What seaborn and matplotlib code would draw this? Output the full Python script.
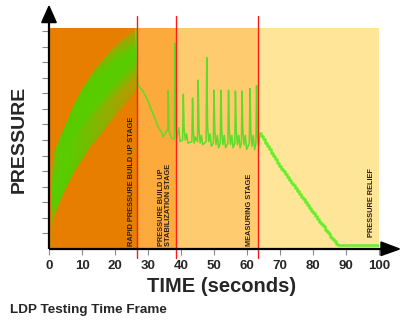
import matplotlib
matplotlib.use("Agg")
import matplotlib.pyplot as plt
import seaborn as sns
from matplotlib.patches import Polygon

sns.set_style("white")
plt.rcParams['font.family'] = ['Liberation Sans', 'DejaVu Sans']

# ---- data ----
stage_bounds = [0, 26.8, 38.5, 63.3, 100]
stage_colors = ["#E87E00", "#FDAA3C", "#FFCB6E", "#FFE597"]
stage_labels = ["RAPID PRESSURE BUILD UP STAGE",
                "PRESSURE BUILD UP\nSTABILIZATION STAGE",
                "MEASURING STAGE",
                "PRESSURE RELIEF"]
label_x = [25.0, 35.3, 60.9, 97.6]
label_y = [0.2, 0.2, 0.2, 0.8]
red_lines = [26.8, 38.5, 63.3]

# rapid build-up pump strokes
stroke_t = [0.8, 1.3, 1.8, 2.3, 2.9, 3.5, 4.1, 4.7, 5.3, 5.9, 6.5, 7.1, 7.7,
            8.3, 8.9, 9.5, 10.1, 10.7, 11.3, 11.9, 12.5, 13.1, 13.7, 14.3,
            14.9, 15.5, 16.1, 16.7, 17.3, 17.9, 18.5, 19.1, 19.7, 20.3, 20.9,
            21.5, 22.1, 22.7, 23.3, 23.9, 24.5, 25.1, 25.7, 26.3]
stroke_high = [5.5, 5.9, 6.3, 6.6, 6.9, 7.2, 7.5, 7.8, 8.1, 8.4, 8.75, 9.0,
               9.3, 9.55, 9.8, 10.05, 10.3, 10.5, 10.7, 10.9, 11.1, 11.3, 11.5,
               11.65, 11.8, 11.95, 12.1, 12.25, 12.4, 12.55, 12.7, 12.85,
               12.95, 13.1, 13.2, 13.35, 13.45, 13.55, 13.65, 13.75, 13.85,
               13.95, 14.05, 14.15]
stroke_low = [0.1, 1.5, 2.1, 2.5, 2.85, 3.15, 3.45, 3.75, 4.0, 4.25, 4.5, 4.75,
              5.0, 5.2, 5.4, 5.6, 5.8, 6.0, 6.2, 6.4, 6.6, 6.75, 6.9, 7.05,
              7.2, 7.35, 7.55, 7.7, 7.85, 8.05, 8.2, 8.35, 8.5, 8.7, 8.85,
              9.0, 9.15, 9.3, 9.45, 9.6, 9.75, 9.9, 10.05, 10.25]

# stabilization + measuring stage trace
meas_t = [26.3, 26.9, 27.1, 28.6, 30.1, 31.1, 32.1, 33.1, 34.1, 34.6, 35.7,
          36.0, 36.1, 36.4, 36.8, 37.2, 38.0, 38.2, 38.45, 38.8, 39.3, 39.7,
          40.5, 40.7, 40.95, 41.3, 41.7, 42.1, 43.3, 43.5, 43.75, 44.0, 44.4,
          45.0, 45.2, 45.45, 45.8, 46.2, 46.6, 47.6, 47.8, 48.05, 48.4, 48.8,
          49.2, 49.8, 50.0, 50.25, 50.6, 51.0, 51.4, 51.9, 52.1, 52.35, 52.7,
          53.1, 53.5, 54.2, 54.4, 54.65, 55.0, 55.4, 55.8, 56.3, 56.5, 56.75,
          57.1, 57.5, 57.9, 58.3, 58.5, 58.75, 59.1, 59.5, 59.9, 60.7, 60.9,
          61.15, 61.5, 61.9, 62.3, 62.7, 62.9, 63.15, 63.5, 64.0]
meas_p = [14.15, 10.6, 10.5, 10.1, 9.45, 8.9, 8.4, 7.85, 7.5, 7.2, 7.6,
          7.6, 10.2, 7.6, 7.3, 7.1, 7.1, 13.2, 7.8, 7.2, 7.8, 6.9,
          7.0, 9.95, 7.7, 7.0, 7.4, 6.8, 6.9, 9.7, 7.6, 6.8, 7.2,
          6.9, 10.85, 7.7, 6.8, 7.3, 6.7, 6.9, 12.3, 7.9, 6.9, 7.4,
          6.6, 6.8, 10.2, 7.6, 6.7, 7.3, 6.5, 6.8, 10.2, 7.6, 6.7,
          7.3, 6.5, 6.8, 10.2, 7.6, 6.7, 7.3, 6.5, 6.8, 10.15, 7.6,
          6.7, 7.3, 6.5, 6.8, 10.15, 7.6, 6.7, 7.3, 6.4, 6.8, 10.3,
          7.6, 6.6, 7.3, 6.4, 6.8, 10.5, 7.3, 6.6, 7.45]

# pressure relief
relief_t = [64.0, 64.6, 65.2, 65.8, 66.4, 67.0, 67.6, 68.2, 68.8, 69.4, 70.0,
            70.6, 71.2, 71.8, 72.4, 73.0, 73.6, 74.2, 74.8, 75.4, 76.0, 76.6,
            77.2, 77.8, 78.4, 79.0, 79.6, 80.2, 80.8, 81.4, 82.0, 82.6, 83.2,
            83.8, 84.4, 85.0, 85.6, 86.2, 86.8, 87.4, 88.0, 94.0, 100.0]
relief_p = [7.45, 7.25, 7.05, 6.8, 6.6, 6.4, 6.2, 6.0, 5.8, 5.55, 5.35,
            5.15, 5.0, 4.8, 4.6, 4.45, 4.25, 4.1, 3.9, 3.75, 3.55, 3.35,
            3.2, 3.0, 2.85, 2.65, 2.45, 2.3, 2.1, 1.95, 1.75, 1.6, 1.45,
            1.25, 1.1, 0.95, 0.8, 0.65, 0.5, 0.35, 0.25, 0.25, 0.25]

x_ticks = [0, 10, 20, 30, 40, 50, 60, 70, 80, 90, 100]
y_ticks = list(range(1, 15))

# ---- figure ----
W, H = 408, 327
fig = plt.figure(figsize=(W / 100, H / 100), dpi=100)
ax = fig.add_axes([49 / W, (H - 249) / H, 330 / W, 221 / H])
ax.set_xlim(0, 100)
ax.set_ylim(0, 14.2)

for i in range(4):
    ax.axvspan(stage_bounds[i], stage_bounds[i + 1], color=stage_colors[i],
               lw=0, zorder=0)

# sawtooth of build-up
saw_t, saw_p = [], []
for t, lo, hi in zip(stroke_t, stroke_low, stroke_high):
    saw_t += [t, t]
    saw_p += [lo, hi]
sns.lineplot(x=saw_t, y=saw_p, sort=False, estimator=None, color="#5ACD00",
             lw=0.75, ax=ax, zorder=3)
sns.lineplot(x=meas_t, y=meas_p, sort=False, estimator=None, color="#5EDC2A",
             lw=1.1, ax=ax, zorder=3)
sns.lineplot(x=relief_t, y=relief_p, sort=False, estimator=None,
             color="#66EE2A", lw=1.8, drawstyle="steps-mid", ax=ax, zorder=3)

for x in red_lines:
    ax.axvline(x, ymin=-0.041, ymax=1.056, color="#FF1A1A", lw=1.0,
               clip_on=False, zorder=5)

for x, y, s in zip(label_x, label_y, stage_labels):
    ax.text(x, y, s, rotation=90, ha="center", va="bottom",
            multialignment="left", fontsize=5.3, fontweight="bold",
            color="#2a2010", zorder=4, linespacing=1.0)

# axes and arrows
for sp in ax.spines.values():
    sp.set_visible(False)
ax.plot([0, 0], [0, 14.6], color="black", lw=1.6, clip_on=False, zorder=6,
        solid_capstyle="butt")
ax.plot([0, 100.6], [0, 0], color="black", lw=1.6, clip_on=False, zorder=6,
        solid_capstyle="butt")
ax.add_patch(Polygon([[-2.2, 14.55], [2.2, 14.55], [0, 15.6]], closed=True,
                     color="black", clip_on=False, zorder=7))
ax.add_patch(Polygon([[100.6, 0.45], [100.6, -0.42], [106.2, 0.0]], closed=True,
                     color="black", clip_on=False, zorder=7))

ax.set_xticks(x_ticks)
ax.set_xticklabels([str(v) for v in x_ticks], fontsize=9.5, fontweight="bold")
ax.set_yticks(y_ticks)
ax.set_yticklabels([])
ax.tick_params(axis="x", direction="out", length=4.5, width=0.8,
               color="#8a8a8a", pad=3.5, bottom=True)
ax.tick_params(axis="y", direction="out", length=5, width=0.8,
               color="#8a8a8a", left=True)
ax.grid(False)
ax.set_xlabel("")
ax.set_ylabel("")

fig.text(19 / W, 1 - 139 / H, "PRESSURE", rotation=90, ha="center",
         va="center", fontsize=14, fontweight="bold")
fig.text(222 / W, 1 - 286 / H, "TIME (seconds)", ha="center", va="center",
         fontsize=14.5, fontweight="bold")
fig.text(10 / W, 1 - 310 / H, "LDP Testing Time Frame", ha="left",
         va="center", fontsize=9.7, fontweight="bold")

fig.savefig("out.png", dpi=100, facecolor="white")
